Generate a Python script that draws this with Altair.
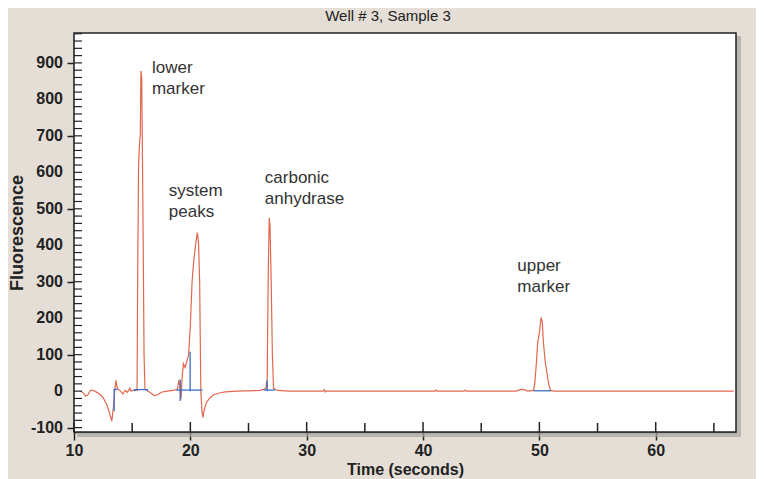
import altair as alt
import pandas as pd

# ---- data ----
TITLE = ["Well # 3, Sample 3"]

TIME = [10.6, 10.8, 11.0, 11.2, 11.4, 11.6, 11.9, 12.2, 12.5, 12.8, 13.05, 13.25, 13.4, 13.5, 13.6, 13.7,
        13.8, 14.0, 14.2, 14.4, 14.6, 14.8, 14.9, 15.1, 15.42,
        15.47, 15.55, 15.65, 15.7, 15.75, 15.82, 15.87, 15.95, 16.02, 16.1, 16.3, 16.6, 16.9, 17.2, 17.5,
        18.0, 18.5, 18.9,
        19.0, 19.1, 19.2, 19.3, 19.4, 19.55, 19.7, 19.85, 20.0, 20.15, 20.3, 20.45, 20.6, 20.7, 20.8, 20.85,
        20.9, 21.0, 21.08, 21.2, 21.4, 21.7, 22.0, 22.5, 23.0, 24.0, 26.0, 26.3, 26.5, 26.55,
        26.6, 26.64, 26.7, 26.78, 26.85, 26.95, 27.05, 27.15, 27.5, 28.5,
        31.4, 31.5, 31.6, 31.7, 41.0, 41.1, 41.2, 43.5, 43.6, 43.7,
        48.0, 48.4, 48.7, 49.0, 49.5, 49.6, 49.75, 49.85, 50.0, 50.14, 50.25, 50.35, 50.5, 50.8, 50.95,
        51.3, 66.7]
FLUOR = [0, -5, -14, -10, 2, 3, -2, -8, -18, -35, -60, -82, -40, 0, 30, 12,
         5, 0, -8, 2, -3, 8, 0, 3, 2,
         300, 620, 690, 700, 878, 860, 690, 400, 100, 5, 2, -5, -12, -10, -3,
         0, 2, 5,
         30, 15, -22, 40, 75, 65, 82, 100, 180, 300, 360, 400, 435, 410, 300, 150,
         0, -55, -72, -50, -30, -18, -10, -5, -2, 0, 2, 5, 8, 25,
         10, 160, 330, 475, 450, 300, 100, 8, 2, 0,
         0, 4, -2, 0, 0, 3, 0, 0, 3, 0,
         0, 5, 4, 0, 2, 20, 80, 133, 160, 202, 190, 133, 80, 20, 2,
         0, 0]

BLUE_SEG = ["a", "a", "a", "b", "b", "b", "b", "c", "c", "d", "d", "e", "e", "f", "f", "g", "g", "h", "h"]
BLUE_T = [13.45, 13.45, 13.75, 15.2, 15.2, 16.3, 16.3, 18.8, 21.05, 19.13, 19.13, 19.98, 19.98,
          26.3, 27.3, 26.6, 26.6, 49.5, 51.0]
BLUE_V = [-55, 5, 5, 0, 4, 4, 0, 3, 3, -27, 32, 0, 108, 3, 3, 0, 30, 1, 1]

LABELS = ["lower\nmarker", "system\npeaks", "carbonic\nanhydrase", "upper\nmarker"]
LABEL_T = [16.7, 18.15, 26.4, 48.1]
LABEL_V = [909, 572, 607, 366]

X_MAJOR = [10, 20, 30, 40, 50, 60]
X_MINOR = [15, 25, 35, 45, 55, 65]
Y_MAJOR = [-100, 0, 100, 200, 300, 400, 500, 600, 700, 800, 900]
Y_MINOR = list(range(-100, 981, 20))

X_DOMAIN = [10, 66.9]
Y_DOMAIN = [-112, 982]

W, H = 662, 399
FONT = "Liberation Sans"
RED = "#E0684E"
BLUE = "#3B6FC4"
DARK = "#222222"

xs = alt.Scale(domain=X_DOMAIN, nice=False, zero=False)
ys = alt.Scale(domain=Y_DOMAIN, nice=False, zero=False)

red_df = pd.DataFrame({"t": TIME, "v": FLUOR, "i": range(len(TIME))})
blue_df = pd.DataFrame({"t": BLUE_T, "v": BLUE_V, "seg": BLUE_SEG, "i": range(len(BLUE_T))})
lab_df = pd.DataFrame({"t": LABEL_T, "v": LABEL_V, "txt": LABELS})
ylab_df = pd.DataFrame({"v": Y_MAJOR, "txt": [str(v) for v in Y_MAJOR]})
one = pd.DataFrame({"a": [0]})

shadow = alt.Chart(one).mark_rect(color="#A8A5A2", opacity=0.7).encode(
    x=alt.value(3), x2=alt.value(W + 5), y=alt.value(3), y2=alt.value(H + 5))
panel = alt.Chart(one).mark_rect(fill="white", stroke=DARK, strokeWidth=1.5).encode(
    x=alt.value(0), x2=alt.value(W), y=alt.value(0), y2=alt.value(H))

title = alt.Chart(pd.DataFrame({"txt": TITLE})).mark_text(
    align="center", baseline="alphabetic", font=FONT, fontSize=15, color=DARK).encode(
    x=alt.value(314), y=alt.value(-12), text="txt:N")

red = alt.Chart(red_df).mark_line(color=RED, strokeWidth=1.2).encode(
    x=alt.X("t:Q", scale=xs, axis=alt.Axis(
        values=X_MAJOR, title="Time (seconds)", tickSize=8, labelPadding=2,
        labelFlush=False, labelOverlap=False,
        titleY=42, titleBaseline="alphabetic", titleFontSize=16)),
    y=alt.Y("v:Q", scale=ys, axis=alt.Axis(
        values=Y_MAJOR, title="Fluorescence", tickSize=7, labels=False,
        titleAngle=270, titleX=-52, titleBaseline="alphabetic", titleFontSize=18)),
    order="i:Q",
)
blue = alt.Chart(blue_df).mark_line(color=BLUE, strokeWidth=1.3).encode(
    x=alt.X("t:Q", scale=xs), y=alt.Y("v:Q", scale=ys),
    detail="seg:N", order="i:Q")

ytick = alt.Chart(pd.DataFrame({"v": Y_MINOR})).mark_rule(color=DARK, strokeWidth=1.2).encode(
    y=alt.Y("v:Q", scale=ys), x=alt.value(0), x2=alt.value(8))
xmaj = alt.Chart(pd.DataFrame({"t": X_MAJOR})).mark_rule(color=DARK, strokeWidth=1.5).encode(
    x=alt.X("t:Q", scale=xs), y=alt.value(H - 10), y2=alt.value(H))
xmin = alt.Chart(pd.DataFrame({"t": X_MINOR})).mark_rule(color=DARK, strokeWidth=1.5).encode(
    x=alt.X("t:Q", scale=xs), y=alt.value(H - 9), y2=alt.value(H))

ylabels = alt.Chart(ylab_df).mark_text(
    align="right", baseline="middle", font=FONT, fontSize=16, fontWeight="bold", color=DARK).encode(
    y=alt.Y("v:Q", scale=ys), x=alt.value(-11), text="txt:N")

labels = alt.Chart(lab_df).mark_text(
    align="left", baseline="top", lineBreak="\n", lineHeight=21,
    font=FONT, fontSize=17, color="#333333").encode(
    x=alt.X("t:Q", scale=xs), y=alt.Y("v:Q", scale=ys), text="txt:N")

chart = alt.layer(shadow, panel, red, blue, ytick, xmaj, xmin, ylabels, labels, title).properties(
    width=W, height=H,
    autosize=alt.AutoSizeParams(type="none"),
    padding={"left": 66, "top": 25, "right": 20, "bottom": 47},
    background="#E4DED6",
).configure_view(stroke=None).configure_axis(
    labelFont=FONT, labelFontSize=16, labelFontWeight="bold", labelColor=DARK,
    titleFont=FONT, titleFontWeight="bold", titleColor=DARK,
    domainColor=DARK, domainWidth=1.5, tickColor=DARK, tickWidth=1.5,
    grid=False, zindex=1,
)

chart.save("out.html", embed_options={"renderer": "svg", "actions": False})
